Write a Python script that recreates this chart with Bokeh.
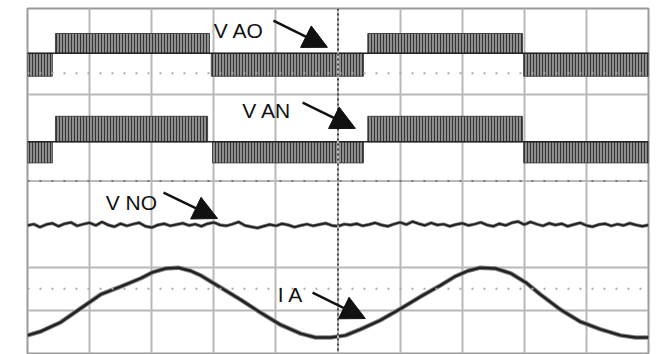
import numpy as np
from bokeh.plotting import figure
from bokeh.models import (Span, Label, Arrow, NormalHead, Grid, FixedTicker,
                          ColumnDataSource, Range1d)
from bokeh.embed import file_html
from bokeh.resources import INLINE

# ---------------- data (time in divisions 0..10, amplitude in divisions 0..8) -------------
# PWM envelopes: segment start / end times and polarity (+1 positive half, -1 negative half)
vao_start = [0.0, 0.45, 2.96, 5.48, 7.99]
vao_end = [0.40, 2.93, 5.41, 7.97, 10.0]
vao_sign = [-1, 1, -1, 1, -1]
vao_zero, vao_high, vao_low = 6.96, 7.42, 6.43

van_start = [0.0, 0.45, 2.98, 5.48, 7.99]
van_end = [0.40, 2.90, 5.41, 7.97, 10.0]
van_sign = [-1, 1, -1, 1, -1]
van_zero, van_high, van_low = 4.91, 5.50, 4.42

# Phase current I A
ia_t = [0, 0.21, 0.53, 0.85, 1.18, 1.50, 1.82, 2.01, 2.22, 2.43, 2.62, 2.79, 2.95, 3.11,
        3.43, 3.75, 4.07, 4.40, 4.64, 4.88, 5.12, 5.36, 5.68, 6.01, 6.33, 6.65, 6.89,
        7.10, 7.29, 7.54, 7.78, 8.02, 8.26, 8.58, 8.90, 9.23, 9.55, 9.79, 10.0]
ia_v = [0.42, 0.51, 0.72, 1.04, 1.37, 1.55, 1.74, 1.88, 1.97, 1.99, 1.92, 1.81, 1.67, 1.53,
        1.25, 0.95, 0.67, 0.46, 0.37, 0.37, 0.42, 0.56, 0.77, 1.04, 1.32, 1.58, 1.79,
        1.92, 1.99, 1.97, 1.86, 1.65, 1.37, 1.02, 0.74, 0.56, 0.42, 0.37, 0.37]

# Common-mode voltage V NO (noisy)
vno_v = [2.97, 3.00, 2.93, 2.99, 3.02, 2.95, 3.01, 3.04, 2.96, 3.00,
         3.03, 2.97, 3.05, 2.98, 2.94, 3.01, 2.96, 3.00, 3.03, 2.95,
         2.92, 2.98, 3.01, 2.96, 2.99, 3.02, 2.97, 3.00, 2.95, 3.01,
         3.04, 2.98, 2.96, 3.00, 3.05, 2.97, 2.94, 2.91, 2.95, 2.99,
         2.96, 3.01, 2.98, 2.93, 2.97, 3.00, 2.96, 2.99, 3.02, 2.97,
         2.95, 3.00, 2.98, 3.01, 2.96, 2.99, 3.03, 2.98, 2.95, 3.00,
         3.04, 2.99, 3.06, 3.01, 2.97, 3.03, 2.98, 3.00, 2.95, 2.99,
         3.02, 2.97, 3.00, 3.04, 2.98, 2.95, 3.01, 2.97, 3.03, 3.06,
         2.99, 3.05, 3.00, 2.96, 3.02, 2.98, 3.01, 2.95, 2.99, 3.03,
         2.97, 2.94, 2.99, 3.01, 2.96, 3.00, 2.97, 3.02, 2.98, 2.95, 2.98]
vno_t = list(np.linspace(0, 10, len(vno_v)))

# annotations: text, text anchor (x, y), arrow tail, arrow tip
ann_text = ["V AO", "V AN", "V NO", "I A"]
ann_x = [3.00, 3.46, 1.26, 4.03]
ann_y = [7.49, 5.63, 3.50, 1.37]
arr_x0 = [3.96, 4.43, 2.19, 4.59]
arr_y0 = [7.72, 5.82, 3.73, 1.41]
arr_x1 = [4.83, 5.28, 3.06, 5.44]
arr_y1 = [7.10, 5.22, 3.13, 0.81]

# channel markers at the left edge
ch_text = ["13", "12", "11", "14"]
ch_y = [6.1, 5.15, 3.13, 1.3]

# grid
grid_x = [1, 2, 3, 4, 6, 7, 8, 9]
grid_y = [1, 2, 6]
dot_rows = [6.5, 1.5]
center_x, center_y = 5, 4

# ---------------------------------------------------------------------------------------
p = figure(width=656, height=354, x_range=Range1d(0, 10), y_range=Range1d(0, 8),
           output_backend="svg", toolbar_location=None,
           x_axis_type=None, y_axis_type=None,
           min_border_left=27, min_border_right=8, min_border_top=8, min_border_bottom=1)
p.outline_line_color = "#9a9a9a"
p.outline_line_width = 2
p.background_fill_color = "white"
p.border_fill_color = "white"

gc = "#b8b8b8"
p.add_layout(Grid(dimension=0, ticker=FixedTicker(ticks=grid_x),
                  grid_line_color=gc, grid_line_width=2))
p.add_layout(Grid(dimension=1, ticker=FixedTicker(ticks=grid_y),
                  grid_line_color=gc, grid_line_width=2))
p.add_layout(Span(location=center_y, dimension="width", line_color=gc, line_width=2))
p.add_layout(Span(location=center_y, dimension="width", line_color="#777",
                  line_width=2, line_dash="2 10"))
for r in dot_rows:
    p.add_layout(Span(location=r, dimension="width", line_color="#aaa",
                      line_width=2, line_dash="2 10"))
p.add_layout(Span(location=center_x, dimension="height", line_color=gc, line_width=2))
p.add_layout(Span(location=center_x, dimension="height", line_color="#444",
                  line_width=2, line_dash="2 3"))


def pwm(starts, ends, signs, zero, high, low):
    top = [high if s > 0 else zero for s in signs]
    bot = [zero if s > 0 else low for s in signs]
    src = ColumnDataSource(dict(left=starts, right=ends, top=top, bottom=bot))
    p.quad(left="left", right="right", top="top", bottom="bottom", source=src,
           fill_color="#8e8e8e", hatch_pattern="vertical_line", hatch_color="#333",
           hatch_scale=3, hatch_weight=1, line_color="#444", line_width=1)
    p.line([starts[0], ends[-1]], [zero, zero], line_color="#222", line_width=1.5)


pwm(vao_start, vao_end, vao_sign, vao_zero, vao_high, vao_low)
pwm(van_start, van_end, van_sign, van_zero, van_high, van_low)

p.line(vno_t, vno_v, line_color="#888", line_width=3.5)
p.line(vno_t, vno_v, line_color="#222", line_width=2)
p.line(ia_t, ia_v, line_color="#888", line_width=4.5)
p.line(ia_t, ia_v, line_color="#222", line_width=2.5)

for t, x, y in zip(ann_text, ann_x, ann_y):
    p.add_layout(Label(x=x, y=y, text=t, text_font="Liberation Sans",
                       text_font_size="21px", text_color="#111",
                       text_baseline="alphabetic", text_align="left"))
for x0, y0, x1, y1 in zip(arr_x0, arr_y0, arr_x1, arr_y1):
    p.add_layout(Arrow(x_start=x0, y_start=y0, x_end=x1, y_end=y1,
                       line_color="#111", line_width=2.5,
                       end=NormalHead(size=24, fill_color="#111", line_color="#111")))

for t, y in zip(ch_text, ch_y):
    p.add_layout(Label(x=-0.29, y=y, text=t, angle=np.pi / 2, text_font="Liberation Sans",
                       text_font_size="8px", text_color="#666",
                       text_baseline="middle", text_align="center"))

open("out.html", "w").write(file_html(p, INLINE))
